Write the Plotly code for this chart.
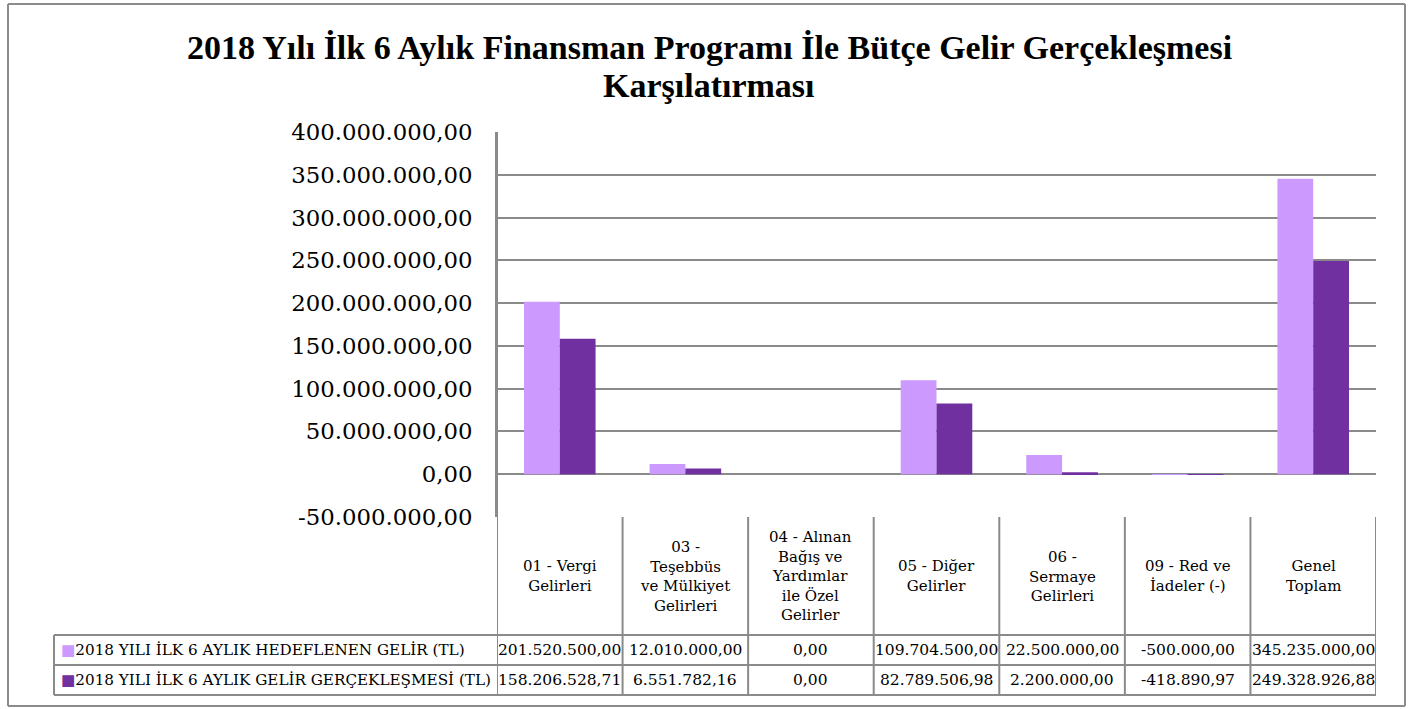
import plotly.graph_objects as go

categories = ["01 - Vergi<br>Gelirleri", "03 -<br>Teşebbüs<br>ve Mülkiyet<br>Gelirleri",
              "04 - Alınan<br>Bağış ve<br>Yardımlar<br>ile Özel<br>Gelirler",
              "05 - Diğer<br>Gelirler", "06 -<br>Sermaye<br>Gelirleri",
              "09 - Red ve<br>İadeler (-)", "Genel<br>Toplam"]
hedef = [201520500.00, 12010000.00, 0.00, 109704500.00, 22500000.00, -500000.00, 345235000.00]
gercek = [158206528.71, 6551782.16, 0.00, 82789506.98, 2200000.00, -418890.97, 249328926.88]
series_names = ["2018 YILI İLK 6 AYLIK HEDEFLENEN GELİR (TL)",
                "2018 YILI İLK 6 AYLIK GELİR GERÇEKLEŞMESİ (TL)"]
y_ticks = [-50e6, 0, 50e6, 100e6, 150e6, 200e6, 250e6, 300e6, 350e6, 400e6]
colors = ["#CC99FF", "#7030A0"]
title_lines = ["2018 Yılı İlk 6 Aylık Finansman Programı İle Bütçe Gelir Gerçekleşmesi",
               "Karşılatırması"]

W, H = 1421, 709
L, R, T, B = 497, 1376, 132, 517
PW, PH = R - L, B - T
FONT = "DejaVu Serif"
GRID = "#8a8a8a"


def px_x(p):
    return (p - L) / PW


def px_y(p):
    return (B - p) / PH


def tr(v):
    s = f"{v:,.2f}"
    return s.replace(",", "X").replace(".", ",").replace("X", ".")


xs = list(range(len(categories)))
fig = go.Figure()
for name, vals, c in zip(series_names, [hedef, gercek], colors):
    fig.add_trace(go.Bar(x=xs, y=vals, name=name, marker=dict(color=c, line=dict(width=0)),
                         showlegend=False, hoverinfo="skip"))

shapes = []
line = dict(color=GRID, width=2)
frame = dict(color="#8c8c8c", width=2)
# outer frame (four edges)
fx0, fx1, fy0, fy1 = px_x(8), px_x(1405), px_y(706), px_y(4)
for (a, b, c, d) in [(fx0, fy1, fx1, fy1), (fx0, fy0, fx1, fy0), (fx0, fy0, fx0, fy1), (fx1, fy0, fx1, fy1)]:
    shapes.append(dict(type="line", xref="paper", yref="paper", x0=a, y0=b, x1=c, y1=d, line=frame))
# table vertical lines
for i in range(len(categories) + 1):
    shapes.append(dict(type="line", xref="x", yref="paper", x0=i - 0.5, x1=i - 0.5,
                       y0=px_y(695), y1=0 if i > 0 else 1, line=line))
shapes.append(dict(type="line", xref="paper", yref="paper", x0=px_x(54), x1=px_x(54),
                   y0=px_y(695), y1=px_y(635), line=line))
for yy in [635, 665, 695]:
    shapes.append(dict(type="line", xref="paper", yref="paper", x0=px_x(54), x1=1,
                       y0=px_y(yy), y1=px_y(yy), line=line))

ann = []
for txt, yy in zip(title_lines, [48, 86]):
    ann.append(dict(xref="paper", yref="paper", x=px_x(709), y=px_y(yy), text=f"<b>{txt}</b>",
                    showarrow=False, xanchor="center", yanchor="middle",
                    font=dict(family="Liberation Serif", size=34, color="#000")))
for i, c in enumerate(categories):
    ann.append(dict(xref="x", yref="paper", x=i, y=px_y(576), text=c, showarrow=False,
                    xanchor="center", yanchor="middle", font=dict(family=FONT, size=15, color="#000")))
    for vals, yy in [(hedef, 650), (gercek, 680)]:
        ann.append(dict(xref="x", yref="paper", x=i, y=px_y(yy), text=tr(vals[i]), showarrow=False,
                        xanchor="center", yanchor="middle", font=dict(family=FONT, size=15.5, color="#000")))
for name, c, yy in zip(series_names, colors, [650, 680]):
    ann.append(dict(xref="paper", yref="paper", x=px_x(59), y=px_y(yy),
                    text=f"<span style='color:{c}'>■</span>{name}", showarrow=False,
                    xanchor="left", yanchor="middle", font=dict(family=FONT, size=15.2, color="#000")))

fig.update_layout(
    width=W, height=H, margin=dict(l=L, r=W - R, t=T, b=H - B, autoexpand=False),
    paper_bgcolor="white", plot_bgcolor="white",
    barmode="group", bargap=0.43, bargroupgap=0,
    xaxis=dict(range=[-0.5, len(categories) - 0.5], showticklabels=False, showgrid=False,
               zeroline=False, showline=False, ticks=""),
    yaxis=dict(range=[min(y_ticks), max(y_ticks)], tickvals=y_ticks, ticktext=[tr(v) for v in y_ticks],
               showgrid=True, gridcolor=GRID, gridwidth=2, zeroline=True, zerolinecolor=GRID,
               zerolinewidth=2, showline=True, linecolor=GRID, linewidth=2, ticks="",
               ticklabelstandoff=18, tickfont=dict(family=FONT, size=22.8, color="#000")),
    shapes=shapes, annotations=ann,
)
fig.write_html("out.html", config={"displayModeBar": False},
               post_script="document.body.style.margin='0';document.body.style.overflow='hidden';")
